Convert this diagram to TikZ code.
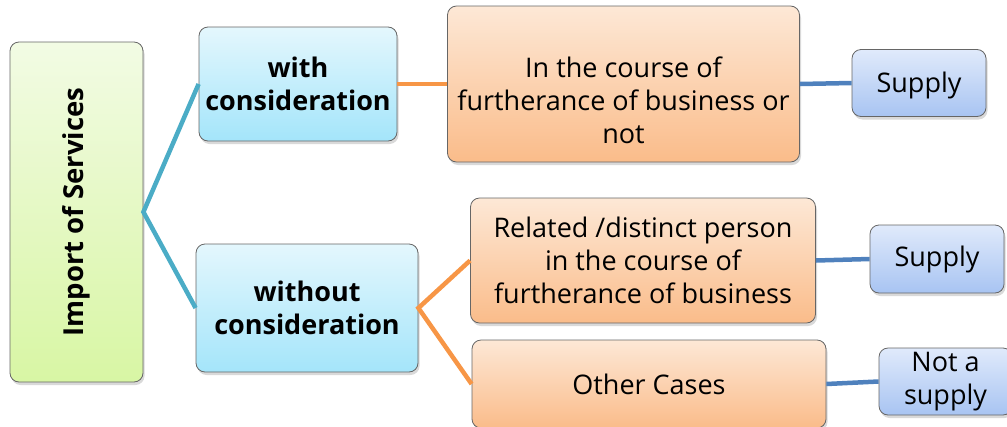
\documentclass[tikz,border=0pt]{standalone}
\usepackage{fontspec}
\setmainfont{Open Sans}
\usetikzlibrary{shadows}

\definecolor{rootTop}{HTML}{F2FBE4}
\definecolor{rootBot}{HTML}{D8F6A4}
\definecolor{condTop}{HTML}{E4F7FD}
\definecolor{condBot}{HTML}{A4E5FA}
\definecolor{caseTop}{HTML}{FDE8D6}
\definecolor{caseBot}{HTML}{FABC8A}
\definecolor{resTop}{HTML}{E0EAFB}
\definecolor{resBot}{HTML}{A8C4F2}
\definecolor{lineTeal}{HTML}{4BACC6}
\definecolor{lineOrange}{HTML}{F79646}
\definecolor{lineBlue}{HTML}{4F81BD}

\begin{document}
\begin{tikzpicture}[
			x=1pt, y=-1pt,
			box/.style={draw=black!60, line width=0.8pt, rounded corners=9pt, align=center,
				inner sep=1pt, font=\fontsize{27}{33}\selectfont,
				drop shadow={opacity=0.3, shadow xshift=1.5pt, shadow yshift=-3pt}},
			rootbox/.style={box, top color=rootTop, bottom color=rootBot, font=\fontsize{27.5}{32}\selectfont\bfseries},
			condbox/.style={box, top color=condTop, bottom color=condBot, font=\fontsize{27}{33}\selectfont\bfseries},
			casebox/.style={box, top color=caseTop, bottom color=caseBot},
			resbox/.style={box, top color=resTop, bottom color=resBot},
			conn/.style={line width=4.5pt}
		]
		\useasboundingbox (0,0) rectangle (1007,426);
		\clip (0,0) rectangle (1007,426);

		\node[rootbox, minimum width=133, minimum height=340] (root) at (76.5,212) {\rotatebox{90}{Import of Services}};

		\node[condbox, minimum width=198, minimum height=114] (with) at (298,84) {with\\consideration};
		\node[condbox, minimum width=222, minimum height=128] (without) at (307,308) {without\\consideration};

		\node[casebox, minimum width=352, minimum height=156] (course) at (623.5,84) {\rule{0pt}{54pt}In the course of\\furtherance of business or\\not};
		\node[casebox, minimum width=345, minimum height=125] (related) at (643,260.5) {Related /distinct person\\in the course of\\furtherance of business};
		\node[casebox, minimum width=354, minimum height=88] (other) at (649,384) {Other Cases};

		\node[resbox, minimum width=134, minimum height=67] (supplyA) at (919,83) {\rule{0pt}{26pt}Supply};
		\node[resbox, minimum width=134, minimum height=68] (supplyB) at (937,259) {Supply};
		\node[resbox, minimum width=133, minimum height=67] (notsupply) at (945.5,381.5) {Not a\\supply};

		% connectors
		\draw[conn, lineTeal] (with.west) -- (root.east) -- (without.west);
		\draw[conn, lineOrange] (with.east) -- (course.west);
		\draw[conn, lineOrange] (related.west) -- (without.east) -- (other.west);
		\draw[conn, lineBlue] (course.east) -- (supplyA.west);
		\draw[conn, lineBlue] (related.east) -- (supplyB.west);
		\draw[conn, lineBlue] (other.east) -- (notsupply.west);
	\end{tikzpicture}
\end{document}
